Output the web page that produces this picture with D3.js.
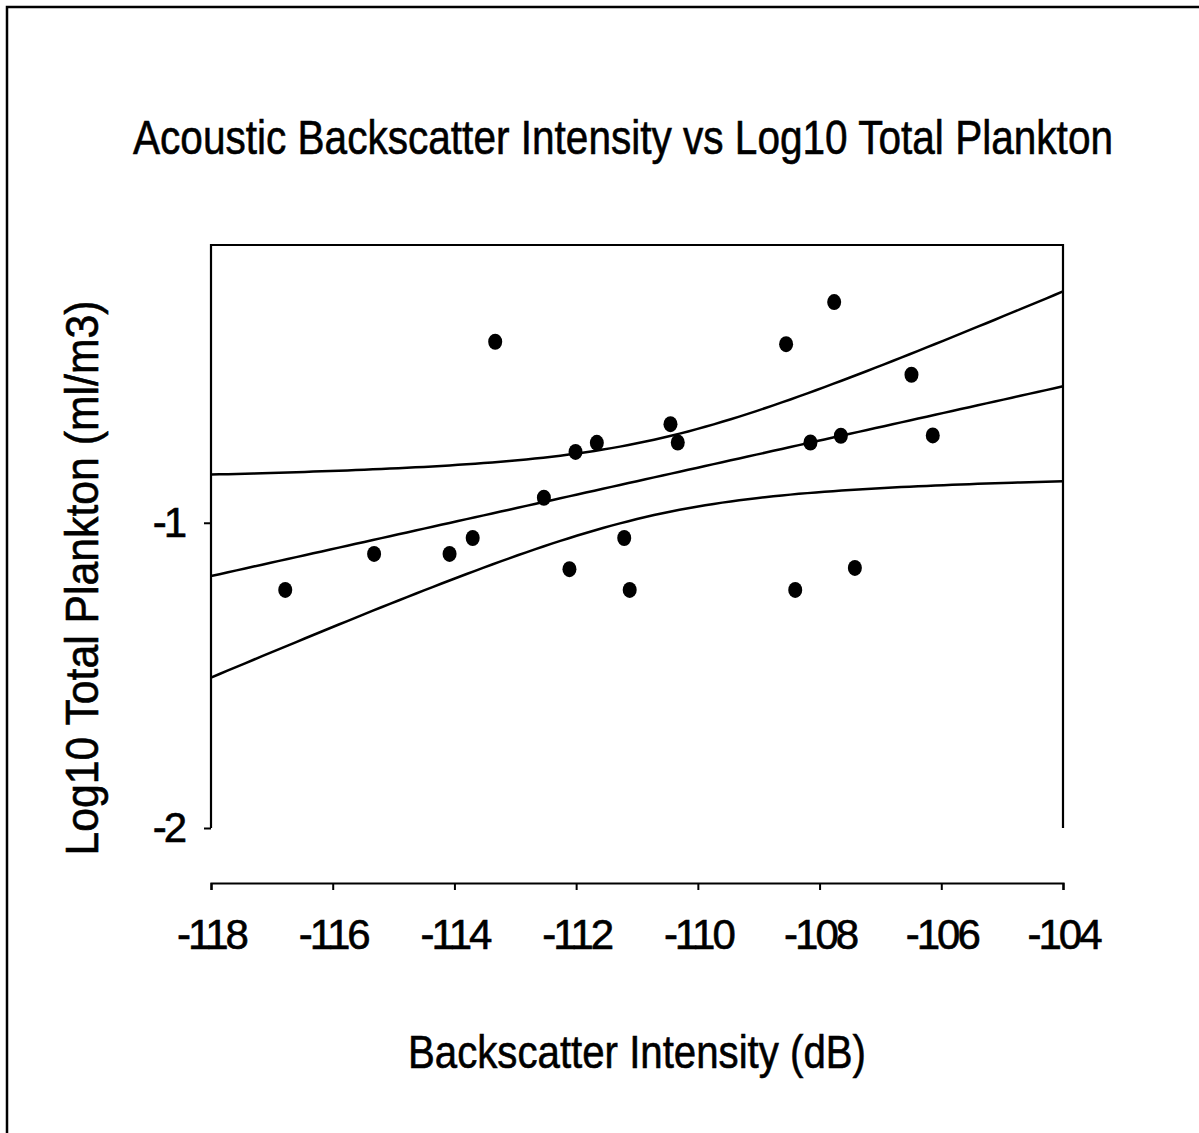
<!DOCTYPE html>
<html>
<head>
<meta charset="utf-8">
<script src="https://cdn.jsdelivr.net/npm/d3@7"></script>
<style>
  body { margin: 0; background: #fff; }
  text { font-family: "Liberation Sans", Arial, Helvetica, sans-serif; fill: #000; stroke: #000; stroke-width: 0.6px; }
</style>
</head>
<body>
<script>
// backscatter intensity (dB) vs log10 total plankton (ml/m3)
var backscatter = [-116.78, -115.32, -114.08, -113.70, -113.33, -112.53, -112.11,
                   -112.01, -111.66, -111.21, -111.12, -110.45, -110.33, -108.55,
                   -108.40, -108.15, -107.76, -107.65, -107.42, -106.49, -106.14];
var plankton = [-1.220, -1.102, -1.102, -1.050, -0.407, -0.918, -1.152,
                -0.768, -0.738, -1.050, -1.220, -0.677, -0.737, -0.415,
                -1.220, -0.737, -0.277, -0.715, -1.148, -0.515, -0.714];
var xTicks = [-118, -116, -114, -112, -110, -108, -106, -104];
var yTicks = [-2, -1];

var width = 1199, height = 1133;
var pLeft = 211, pRight = 1063, pTop = 245, pBottom = 828, xAxisY = 883;

var svg = d3.select("body").append("svg")
  .attr("width", width)
  .attr("height", height);

svg.append("rect").attr("width", width).attr("height", height).attr("fill", "#fff");

// outer frame (only left and top visible in the picture)
svg.append("path")
  .attr("d", "M7," + height + "V7H" + width)
  .attr("fill", "none").attr("stroke", "#000").attr("stroke-width", 2.5);

var x = d3.scaleLinear().domain([-118, -104]).range([pLeft, pRight]);
var y = d3.scaleLinear().domain([-2, -0.09]).range([pBottom, pTop]);

var fmt = function(d){ return String(d); }; // plain hyphen minus

// plot box: left, top, right
svg.append("path")
  .attr("d", "M" + pLeft + "," + pBottom + "V" + pTop + "H" + pRight + "V" + pBottom)
  .attr("fill", "none").attr("stroke", "#000").attr("stroke-width", 2.2);

// y axis
var yAxis = svg.append("g")
  .attr("transform", "translate(" + pLeft + ",0)")
  .call(d3.axisLeft(y).tickValues(yTicks).tickFormat(fmt).tickSize(7).tickPadding(20));
yAxis.select(".domain").remove();
yAxis.selectAll("line").attr("stroke-width", 2);
yAxis.selectAll("text")
  .attr("font-size", 42).attr("letter-spacing", -3)
  .style("font-family", "'Liberation Sans', Arial, sans-serif");

// x axis (offset below plot)
var xAxis = svg.append("g")
  .attr("transform", "translate(0," + xAxisY + ")")
  .call(d3.axisBottom(x).tickValues(xTicks).tickFormat(fmt).tickSizeOuter(0).tickSize(7).tickPadding(29));
xAxis.select(".domain").attr("stroke-width", 2.2);
xAxis.selectAll("line").attr("stroke-width", 2);
xAxis.selectAll("text")
  .attr("font-size", 42).attr("letter-spacing", -3)
  .style("font-family", "'Liberation Sans', Arial, sans-serif");

// linear regression with 95% confidence band
var n = backscatter.length;
var mx = d3.mean(backscatter), my = d3.mean(plankton);
var sxx = d3.sum(backscatter, function(v){ return (v - mx) * (v - mx); });
var sxy = d3.sum(backscatter, function(v, i){ return (v - mx) * (plankton[i] - my); });
var slope = sxy / sxx, icpt = my - slope * mx;
var sse = d3.sum(backscatter, function(v, i){ var r = plankton[i] - (icpt + slope * v); return r * r; });
var s = Math.sqrt(sse / (n - 2));
var tcrit = 2.093; // t(0.975, df=19)

var grid = d3.range(0, 101).map(function(i){ return -118 + i * 14 / 100; });
function fit(v) { return icpt + slope * v; }
function half(v) { return tcrit * s * Math.sqrt(1 / n + (v - mx) * (v - mx) / sxx); }

var line = d3.line().x(function(d){ return x(d[0]); }).y(function(d){ return y(d[1]); });
var curves = [
  grid.map(function(v){ return [v, fit(v) + half(v)]; }),
  grid.map(function(v){ return [v, fit(v)]; }),
  grid.map(function(v){ return [v, fit(v) - half(v)]; })
];
svg.selectAll(".fit").data(curves).enter().append("path")
  .attr("class", "fit")
  .attr("d", line)
  .attr("fill", "none").attr("stroke", "#000").attr("stroke-width", 2.5);

// points
svg.selectAll(".pt").data(backscatter).enter().append("ellipse")
  .attr("class", "pt")
  .attr("cx", function(d){ return x(d); })
  .attr("cy", function(d, i){ return y(plankton[i]); })
  .attr("rx", 7).attr("ry", 8)
  .attr("fill", "#000");

// titles
svg.append("text")
  .attr("x", 623).attr("y", 154)
  .attr("text-anchor", "middle")
  .attr("font-size", 49)
  .attr("textLength", 980).attr("lengthAdjust", "spacingAndGlyphs")
  .text("Acoustic Backscatter Intensity vs Log10 Total Plankton");

svg.append("text")
  .attr("x", 637).attr("y", 1068)
  .attr("text-anchor", "middle")
  .attr("font-size", 47)
  .attr("textLength", 458).attr("lengthAdjust", "spacingAndGlyphs")
  .text("Backscatter Intensity (dB)");

svg.append("text")
  .attr("transform", "translate(98,578) rotate(-90)")
  .attr("text-anchor", "middle")
  .attr("font-size", 47)
  .attr("textLength", 555).attr("lengthAdjust", "spacingAndGlyphs")
  .text("Log10 Total Plankton (ml/m3)");
</script>
</body>
</html>
